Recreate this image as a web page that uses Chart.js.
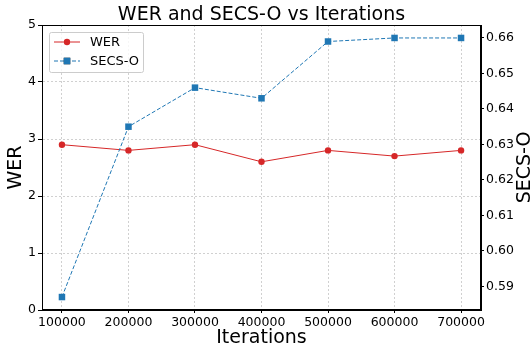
<!DOCTYPE html>
<html>
<head>
<meta charset="utf-8">
<script src="https://cdn.jsdelivr.net/npm/chart.js@4/dist/chart.umd.min.js"></script>
<style>
  html, body { margin: 0; padding: 0; background: #fff; }
  #wrap { width: 532px; height: 346px; }
</style>
</head>
<body>
<div id="wrap"><canvas id="werChart"></canvas></div>
<script>
// donnees
const iterations = [100000, 200000, 300000, 400000, 500000, 600000, 700000]
const werValues = [2.9, 2.8, 2.9, 2.6, 2.8, 2.7, 2.8]
const secsValues = [0.587, 0.635, 0.646, 0.643, 0.659, 0.660, 0.660]
const werTicks = [0, 1, 2, 3, 4, 5]
const secsTicks = [0.59, 0.60, 0.61, 0.62, 0.63, 0.64, 0.65, 0.66]

const FONT = "'DejaVu Sans', sans-serif"
const RED = '#d62728'
const BLUE = '#1f77b4'
const GRID = '#d0d0d0'

// cadre complet + legende + titre de l'axe droit (lecture de bas en haut)
const extras = {
  id: 'extras',
  afterDraw(chart) {
    const ctx = chart.ctx
    const a = chart.chartArea
    ctx.save()
    ctx.strokeStyle = '#000'
    ctx.lineWidth = 1
    ctx.setLineDash([])
    ctx.strokeRect(a.left + 0.5, a.top + 0.5, a.right - a.left - 1, a.bottom - a.top - 1)

    // legende
    const lx = 49, ly = 32, lw = 94, lh = 40
    ctx.fillStyle = 'rgba(255,255,255,0.8)'
    ctx.strokeStyle = '#cccccc'
    ctx.beginPath()
    ctx.roundRect(lx + 0.5, ly + 0.5, lw, lh, 2)
    ctx.fill()
    ctx.stroke()
    chart.data.datasets.forEach((ds, i) => {
      const y = ly + 10 + i * 19
      ctx.strokeStyle = ds.borderColor
      ctx.lineWidth = ds.borderWidth
      ctx.setLineDash(ds.borderDash || [])
      ctx.beginPath()
      ctx.moveTo(lx + 5, y)
      ctx.lineTo(lx + 31, y)
      ctx.stroke()
      ctx.setLineDash([])
      Chart.helpers.drawPoint(ctx, {pointStyle: ds.pointStyle, radius: ds.pointRadius, borderWidth: 0}, lx + 18, y)
      ctx.fillStyle = ds.pointBackgroundColor
      ctx.fill()
      ctx.fillStyle = '#000'
      ctx.font = '13px ' + FONT
      ctx.textBaseline = 'middle'
      ctx.fillText(ds.label, lx + 41, y + 1)
    })

    // titre axe droit
    ctx.translate(525, (a.top + a.bottom) / 2)
    ctx.rotate(-Math.PI / 2)
    ctx.fillStyle = '#000'
    ctx.font = '19px ' + FONT
    ctx.textAlign = 'center'
    ctx.textBaseline = 'middle'
    ctx.fillText('SECS-O', 0, 0)
    ctx.restore()
  }
}

const data = {
  datasets: [
    {
      label: 'WER',
      data: iterations.map((x, i) => ({x: x, y: werValues[i]})),
      yAxisID: 'y',
      borderColor: RED,
      backgroundColor: RED,
      pointBackgroundColor: RED,
      pointBorderWidth: 0,
      borderWidth: 1,
      pointStyle: 'circle',
      pointRadius: 3.2,
      order: 1
    },
    {
      label: 'SECS-O',
      data: iterations.map((x, i) => ({x: x, y: secsValues[i]})),
      yAxisID: 'y1',
      borderColor: BLUE,
      backgroundColor: BLUE,
      pointBackgroundColor: BLUE,
      pointBorderWidth: 0,
      borderWidth: 1,
      borderDash: [4, 2],
      pointStyle: 'rect',
      pointRadius: 4.6,
      order: 0
    }
  ]
}

const config = {
  type: 'line',
  data: data,
  options: {
    responsive: true,
    maintainAspectRatio: false,
    animation: false,
    layout: { padding: { right: 9 } },
    plugins: {
      legend: { display: false },
      tooltip: { enabled: false },
      title: {
        display: true,
        text: 'WER and SECS-O vs Iterations',
        color: '#000',
        font: { family: FONT, size: 19, weight: 'normal', lineHeight: 1 },
        padding: { top: 6, bottom: 0 }
      }
    },
    scales: {
      x: {
        type: 'linear',
        min: 70000,
        max: 730000,
        afterBuildTicks: axis => { axis.ticks = iterations.map(v => ({value: v})) },
        afterFit: axis => { axis.height = 36 },
        ticks: {
          color: '#000',
          font: { family: FONT, size: 12.5 },
          maxRotation: 0,
          padding: 2,
          callback: v => String(v)
        },
        grid: { color: GRID, tickColor: '#000', tickLength: 3 },
        border: { color: '#000', dash: [2, 2] },
        title: {
          display: true,
          text: 'Iterations',
          color: '#000',
          font: { family: FONT, size: 19, lineHeight: 0.8 },
          padding: 0
        }
      },
      y: {
        position: 'left',
        min: 0,
        max: 5,
        afterBuildTicks: axis => { axis.ticks = werTicks.map(v => ({value: v})) },
        afterFit: axis => { axis.width = 42 },
        ticks: { color: '#000', font: { family: FONT, size: 12.5 }, padding: 2 },
        grid: { color: GRID, tickColor: '#000', tickLength: 4 },
        border: { color: '#000', dash: [2, 2] },
        title: {
          display: true,
          text: 'WER',
          color: '#000',
          font: { family: FONT, size: 19, lineHeight: 1.2 },
          padding: { top: 5, bottom: 0 }
        }
      },
      y1: {
        position: 'right',
        min: 0.58335,
        max: 0.66365,
        afterBuildTicks: axis => { axis.ticks = secsTicks.map(v => ({value: v})) },
        afterFit: axis => { axis.width = 42 },
        ticks: {
          color: '#000',
          font: { family: FONT, size: 12.5 },
          padding: 2,
          callback: v => v.toFixed(2)
        },
        grid: { drawOnChartArea: false, tickColor: '#000', tickLength: 3 },
        border: { color: '#000' }
      }
    }
  },
  plugins: [extras]
}

const myChart = new Chart(document.getElementById('werChart'), config)
</script>
</body>
</html>
